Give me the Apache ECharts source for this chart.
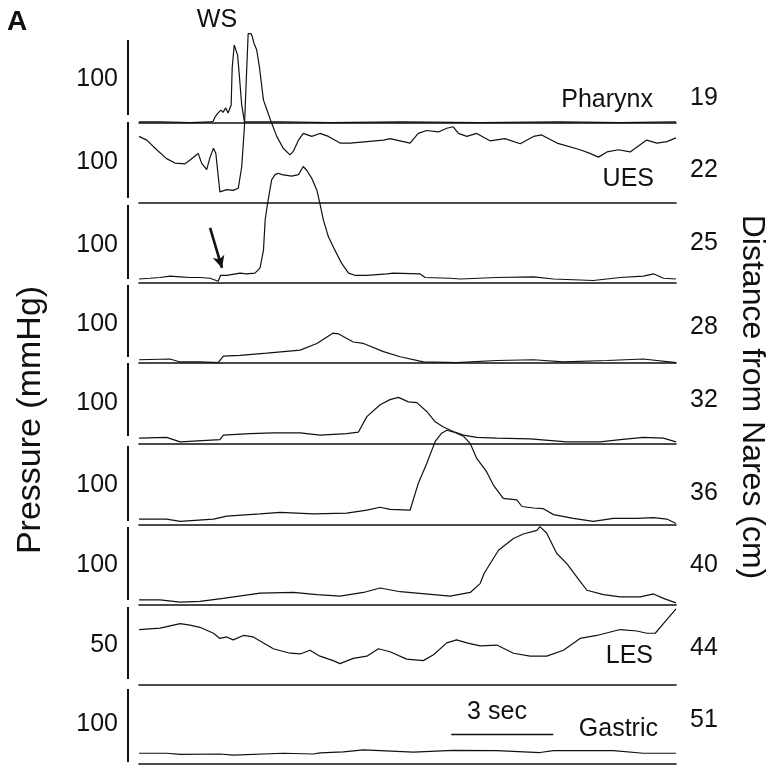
<!DOCTYPE html>
<html><head><meta charset="utf-8">
<script src="https://cdn.jsdelivr.net/npm/echarts@6/dist/echarts.min.js"></script>
<style>html,body{margin:0;padding:0;background:#fff}#c{width:779px;height:765px}</style>
</head><body><div id="c"></div>
<script>
// ---------- data (time in seconds, pressure in mmHg above each channel's baseline) ----------
const channels = ['19', '22', '25', '28', '32', '36', '40', '44', '51'];
const scaleLabels = ['100', '100', '100', '100', '100', '100', '100', '50', '100'];
const scaleValues = [100, 100, 100, 100, 100, 100, 100, 50, 100];
const siteLabels = ['Pharynx', 'UES', '', '', '', '', '', 'LES', 'Gastric'];
const timeSpan = 15.79;   // seconds shown
const scaleBarSec = [9.18, 12.18];  // "3 sec" bar
const scaleBarLevel = 40;           // mmHg in gastric channel

const pharynxT = [0, 0.62, 1.5, 2.09, 2.18, 2.24, 2.32, 2.41, 2.47, 2.55, 2.62, 2.71, 2.74, 2.80, 2.85, 2.90, 2.95, 3.02, 3.10, 3.15, 4.15, 5.62, 7.68, 10.03, 12.38, 14.15, 15.79];
const pharynxP = [1, 1, 0, 1, 2, 8, 13, 17, 14, 20, 13, 24, 74, 105, 107, 91, 64, 24, 1, 0, 1, 0, 1, 0, 1, 0, 1];

const uesT = [0, 0.23, 0.52, 0.81, 1.06, 1.35, 1.5, 1.74, 1.84, 1.99, 2.09, 2.19, 2.26, 2.33, 2.38, 2.58, 2.77, 2.92, 3.02, 3.10, 3.17, 3.21, 3.29, 3.33, 3.38, 3.41, 3.46, 3.54, 3.66, 3.76, 3.90, 4.05, 4.24, 4.44, 4.54, 4.69, 4.83, 5.08, 5.32, 5.57, 5.91, 6.21, 6.70, 7.19, 7.38, 7.97, 8.21, 8.46, 8.80, 9.05, 9.24, 9.39, 9.64, 9.93, 10.32, 10.76, 11.21, 11.6, 11.84, 12.29, 12.97, 13.26, 13.51, 13.76, 14.1, 14.44, 14.93, 15.23, 15.52, 15.79];
const uesP = [90, 85, 72, 60, 54, 53, 58, 67, 54, 45, 62, 74, 67, 36, 15, 18, 17, 20, 49, 103, 184, 229, 229, 225, 216, 218, 207, 184, 139, 126, 108, 90, 74, 65, 70, 85, 94, 90, 94, 90, 81, 81, 83, 85, 87, 81, 94, 98, 96, 101, 103, 94, 90, 94, 84, 87, 80, 90, 92, 81, 72, 67, 62, 69, 72, 69, 85, 81, 83, 88];

const ch25T = [0, 0.32, 0.62, 0.91, 1.21, 1.5, 1.79, 2.09, 2.33, 2.40, 2.58, 2.97, 3.17, 3.41, 3.56, 3.66, 3.71, 3.78, 3.90, 4.0, 4.10, 4.2, 4.49, 4.69, 4.83, 4.93, 5.08, 5.23, 5.32, 5.42, 5.57, 5.76, 5.96, 6.16, 6.35, 6.7, 7.29, 7.48, 8.26, 8.41, 9.15, 9.44, 10.52, 11.6, 12.19, 13.36, 14.15, 14.83, 15.13, 15.42, 15.79];
const ch25P = [5, 6, 7, 9, 8, 7, 7, 6, 2, 10, 10, 13, 12, 13, 20, 44, 85, 107, 139, 146, 148, 146, 144, 146, 157, 152, 141, 125, 107, 85, 62, 44, 26, 13, 10, 10, 12, 13, 12, 7, 6, 5, 7, 8, 5, 3, 7, 9, 12, 6, 5];

const ch28T = [0, 0.91, 1.21, 1.79, 2.33, 2.48, 2.97, 3.76, 4.74, 5.23, 5.71, 5.86, 6.30, 6.60, 7.19, 7.68, 8.36, 9.34, 10.52, 11.6, 12.48, 13.76, 14.83, 15.79];
const ch28P = [4, 5, 1, 1, 0, 9, 10, 13, 17, 26, 40, 39, 28, 26, 15, 8, 1, 0, 3, 4, 1, 3, 5, 0];

const ch32T = [0, 0.81, 1.21, 2.38, 2.48, 3.26, 3.95, 4.74, 5.32, 6.11, 6.45, 6.70, 7.09, 7.38, 7.63, 7.92, 8.17, 8.46, 8.71, 8.95, 9.24, 9.54, 9.93, 10.52, 11.5, 12.58, 13.56, 14.15, 14.83, 15.42, 15.79];
const ch32P = [7, 8, 2, 5, 11, 13, 14, 14, 11, 13, 15, 36, 52, 59, 62, 56, 55, 43, 29, 22, 16, 11, 8, 7, 6, 2, 2, 5, 8, 7, 2];

const ch36T = [0, 0.81, 1.21, 2.19, 2.58, 3.56, 4.15, 5.13, 6.11, 6.70, 7.09, 7.38, 7.97, 8.21, 8.46, 8.71, 8.90, 9.05, 9.29, 9.54, 9.74, 9.93, 10.22, 10.42, 10.71, 11.11, 11.26, 11.6, 11.89, 12.19, 12.77, 13.36, 13.95, 14.64, 15.13, 15.52, 15.79];
const ch36P = [8, 8, 5, 8, 12, 15, 17, 15, 16, 20, 24, 21, 20, 56, 83, 113, 124, 128, 125, 120, 110, 90, 72, 54, 36, 34, 25, 23, 22, 14, 9, 5, 9, 9, 10, 8, 2];

const ch40T = [0, 0.62, 1.21, 1.79, 2.48, 3.56, 4.54, 5.23, 5.91, 6.6, 7.09, 7.68, 8.66, 9.15, 9.74, 10.03, 10.15, 10.57, 11.01, 11.3, 11.7, 11.79, 11.99, 12.28, 12.58, 12.97, 13.17, 13.66, 14.15, 14.74, 15.13, 15.42, 15.79];
const ch40P = [6, 6, 3, 4, 8, 15, 16, 13, 11, 16, 22, 17, 13, 11, 16, 28, 42, 73, 89, 95, 100, 105, 96, 69, 55, 31, 19, 13, 10, 10, 14, 8, 2];

const lesT = [0, 0.62, 1.21, 1.5, 1.79, 2.19, 2.38, 2.58, 2.77, 3.07, 3.36, 3.95, 4.44, 4.74, 5.03, 5.32, 5.71, 5.91, 6.30, 6.70, 7.04, 7.38, 7.87, 8.36, 8.66, 9.05, 9.34, 9.64, 10.03, 10.52, 11.01, 11.5, 11.99, 12.48, 12.97, 13.46, 14.15, 14.64, 14.93, 15.18, 15.42, 15.79];
const lesP = [37, 38, 41, 40, 38.5, 34.5, 31, 32, 30, 33, 32, 24, 21, 20.5, 23, 19, 16, 14, 17.5, 19, 24, 22, 17, 16, 20, 28, 30, 28, 26, 26.5, 21, 19, 19, 23, 31, 33, 37, 36, 34.5, 34.5, 41, 51];

const gastricT = [0, 0.81, 1.21, 2.38, 2.77, 4.24, 5.13, 5.32, 6.01, 6.60, 8.07, 9.24, 10.52, 11.79, 12.19, 13.95, 14.83, 15.79];
const gastricP = [14.5, 14.5, 13, 13.5, 12, 14.5, 13.5, 15, 16.5, 19, 16, 18.5, 18, 15.5, 18, 18, 14.5, 14.5];

const arrowFrom = [2.09, 74];   // arrow in channel 25
const arrowTo = [2.44, 20];

const traceTimes = [pharynxT, uesT, ch25T, ch28T, ch32T, ch36T, ch40T, lesT, gastricT];
const tracePressures = [pharynxP, uesP, ch25P, ch28P, ch32P, ch36P, ch40P, lesP, gastricP];

// ---------- layout ----------
const FONT = '"Liberation Sans", Arial, Helvetica, sans-serif';
const INK = '#111';
const baselines = [122.7, 203, 282.7, 362.7, 443.3, 525, 604.3, 684.3, 764];
const panelH = 80;
const plotLeft = 139, plotRight = 676;
const pxPerUnit = 74 / 100;   // 100 mmHg bar ≈ 74 px
const barSpans = [[40, 115], [122, 198], [205, 279], [285, 357], [363, 436], [446, 521], [527, 600], [607, 679], [689, 762]];
const scaleLabelY = [79, 162, 245, 324, 403, 485, 565, 645, 724];
const channelLabelY = [98, 170, 243, 327, 400, 493, 565, 648, 720];
const siteLabelY = [100, 179, 0, 0, 0, 0, 0, 656, 729];
const siteLabelX = [653, 654, 0, 0, 0, 0, 0, 653, 658];

const grids = [], xAxes = [], yAxes = [], series = [], graphic = [];
for (let i = 0; i < 9; i++) {
  grids.push({ left: plotLeft, width: plotRight - plotLeft, top: baselines[i] - panelH, height: panelH });
  xAxes.push({
    type: 'value', gridIndex: i, min: 0, max: timeSpan,
    axisLine: { show: true, lineStyle: { color: INK, width: 1.6 } },
    axisTick: { show: false }, axisLabel: { show: false }, splitLine: { show: false }
  });
  const ymax = panelH / (pxPerUnit * (100 / scaleValues[i]));
  yAxes.push({ type: 'value', gridIndex: i, min: 0, max: ymax, show: false, splitLine: { show: false } });
  const data = traceTimes[i].map((t, k) => [t, tracePressures[i][k]]);
  const s = {
    type: 'line', xAxisIndex: i, yAxisIndex: i, data: data, showSymbol: false, symbol: 'none',
    clip: false, animation: false, silent: true, z: 3,
    lineStyle: { color: INK, width: 1.2 }
  };
  if (i === 2) {
    s.markLine = {
      silent: true, animation: false, symbol: ['none', 'arrow'], symbolSize: [9, 12],
      label: { show: false },
      lineStyle: { color: INK, width: 2.6, type: 'solid' },
      data: [[{ coord: arrowFrom }, { coord: arrowTo }]]
    };
  }
  if (i === 8) {
    s.markLine = {
      silent: true, animation: false, symbol: ['none', 'none'],
      label: { show: false },
      lineStyle: { color: INK, width: 1.4, type: 'solid' },
      data: [[{ coord: [scaleBarSec[0], scaleBarLevel] }, { coord: [scaleBarSec[1], scaleBarLevel] }]]
    };
  }
  series.push(s);

  // vertical calibration bar
  graphic.push({ type: 'line', shape: { x1: 128, y1: barSpans[i][0], x2: 128, y2: barSpans[i][1] },
    style: { stroke: INK, lineWidth: 2 }, silent: true });
  graphic.push({ type: 'text', x: 118, y: scaleLabelY[i],
    style: { text: scaleLabels[i], font: '25px ' + FONT, fill: INK, align: 'right', verticalAlign: 'middle' } });
  graphic.push({ type: 'text', x: 690, y: channelLabelY[i],
    style: { text: channels[i], font: '25px ' + FONT, fill: INK, align: 'left', verticalAlign: 'middle' } });
  if (siteLabels[i]) {
    graphic.push({ type: 'text', x: siteLabelX[i], y: siteLabelY[i],
      style: { text: siteLabels[i], font: '25px ' + FONT, fill: INK, align: 'right', verticalAlign: 'middle' } });
  }
}
graphic.push({ type: 'text', x: 497, y: 712,
  style: { text: '3 sec', font: '25px ' + FONT, fill: INK, align: 'center', verticalAlign: 'middle' } });
graphic.push({ type: 'text', x: 217, y: 20,
  style: { text: 'WS', font: '25px ' + FONT, fill: INK, align: 'center', verticalAlign: 'middle' } });
graphic.push({ type: 'text', x: 7, y: 22,
  style: { text: 'A', font: 'bold 28px ' + FONT, fill: INK, align: 'left', verticalAlign: 'middle' } });
graphic.push({ type: 'text', x: 31, y: 420, rotation: Math.PI / 2,
  style: { text: 'Pressure (mmHg)', font: '34px ' + FONT, fill: INK, align: 'center', verticalAlign: 'middle' } });
graphic.push({ type: 'text', x: 752, y: 397, rotation: -Math.PI / 2,
  style: { text: 'Distance from Nares (cm)', font: '32px ' + FONT, fill: INK, align: 'center', verticalAlign: 'middle' } });

const chart = echarts.init(document.getElementById('c'), null, { renderer: 'canvas' });
chart.setOption({
  animation: false,
  backgroundColor: '#fff',
  grid: grids, xAxis: xAxes, yAxis: yAxes, series: series, graphic: graphic
});
</script></body></html>
